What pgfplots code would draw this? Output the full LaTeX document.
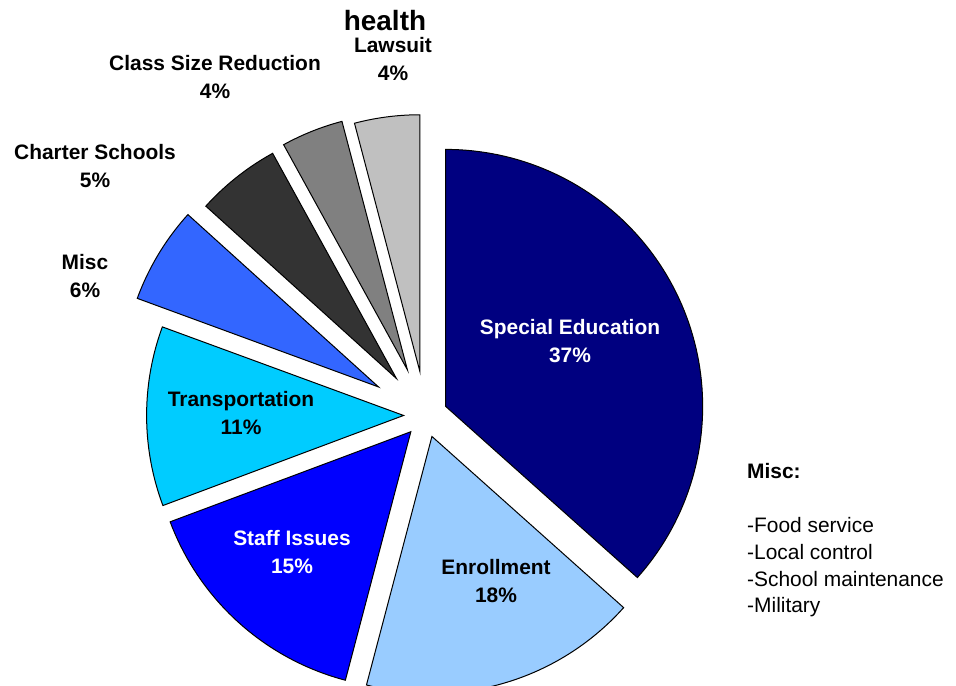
\documentclass[border=0pt]{standalone}
\usepackage{pgfplots}
\usepackage{pgfplotstable}
\pgfplotsset{compat=1.18}
\usepackage{fontspec}
\setmainfont{Liberation Sans}

\definecolor{cSpec}{HTML}{000080}
\definecolor{cEnr}{HTML}{99CCFF}
\definecolor{cStaff}{HTML}{0000FF}
\definecolor{cTrans}{HTML}{00CCFF}
\definecolor{cMisc}{HTML}{3366FF}
\definecolor{cChart}{HTML}{333333}
\definecolor{cClass}{HTML}{808080}
\definecolor{cLaw}{HTML}{C0C0C0}

% share of each slice (percent) and how far it is pulled out (px)
\pgfplotstableread{
label pct expl
SpecialEducation   36.6 22
Enrollment         17.5 22
StaffIssues        15.2 22
Transportation     11.3 22
Misc                6.1 55
CharterSchools      5.3 47
ClassSizeReduction  3.9 49
Lawsuit             4.1 44
}\piedata

\def\pcx{425.6}
\def\pcy{270.6}
\def\prad{257}
\xdef\astart{90}

\newcommand\pieslice[2]{%
  \pgfplotstablegetelem{#1}{pct}\of\piedata \let\pct\pgfplotsretval
  \pgfplotstablegetelem{#1}{expl}\of\piedata \let\ex\pgfplotsretval
  \pgfmathsetmacro\aend{\astart-3.6*\pct}%
  \pgfmathsetmacro\amid{(\astart+\aend)/2}%
  \pgfmathsetmacro\tx{\pcx+\ex*cos(\amid)}%
  \pgfmathsetmacro\ty{\pcy+\ex*sin(\amid)}%
  \edef\temp{\noexpand\addplot[fill=#2, draw=black, line width=1bp, line join=miter,
     domain=\aend:\astart, samples=90, variable=\noexpand\t]
     ({\tx+\prad*cos(\noexpand\t)},{\ty+\prad*sin(\noexpand\t)}) -- (axis cs:\tx,\ty) -- cycle;}%
  \temp
  \xdef\astart{\aend}%
}

\begin{document}
\begin{tikzpicture}
\begin{axis}[
  scale only axis, width=956bp, height=686bp,
  xmin=0, xmax=956, ymin=0, ymax=686,
  hide axis, clip=true,
]
\addplot[draw=none] coordinates {(0,0) (956,686)};
\pieslice{0}{cSpec}
\pieslice{1}{cEnr}
\pieslice{2}{cStaff}
\pieslice{3}{cTrans}
\pieslice{4}{cMisc}
\pieslice{5}{cChart}
\pieslice{6}{cClass}
\pieslice{7}{cLaw}

\tikzset{lab/.style={font=\fontsize{21}{28}\selectfont\bfseries, align=center, inner sep=0pt}}
\node[font=\fontsize{28}{30}\selectfont\bfseries, inner sep=0pt] at (axis cs:385,665) {health};
\node[lab, white] at (axis cs:570,345) {Special Education\\37\%};
\node[lab] at (axis cs:496,105) {Enrollment\\18\%};
\node[lab, white] at (axis cs:292,134) {Staff Issues\\15\%};
\node[lab] at (axis cs:241,273) {Transportation\\11\%};
\node[lab] at (axis cs:85,410) {Misc\\6\%};
\node[lab] at (axis cs:95,520) {Charter Schools\\5\%};
\node[lab] at (axis cs:215,609) {Class Size Reduction\\4\%};
\node[lab] at (axis cs:393,627) {Lawsuit\\4\%};

\node[font=\fontsize{21}{27}\selectfont, align=left, anchor=north west, inner sep=0pt] at (axis cs:747,223)
  {\textbf{Misc:}\\[27bp]-Food service\\-Local control\\-School maintenance\\-Military};
\end{axis}
\end{tikzpicture}
\end{document}
